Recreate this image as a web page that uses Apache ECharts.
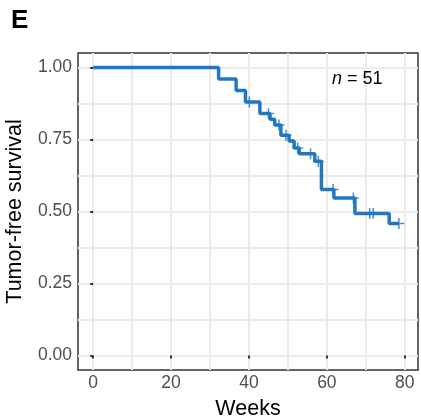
<!DOCTYPE html>
<html>
<head>
<meta charset="utf-8">
<script src="https://cdn.jsdelivr.net/npm/echarts@6/dist/echarts.min.js"></script>
<style>
  html, body { margin: 0; padding: 0; background: #fff; }
  #chart { width: 421px; height: 417px; }
</style>
</head>
<body>
<div id="chart"></div>
<script>
// Kaplan-Meier steps (weeks, survival)
const eventWeeks = [0, 32.2, 36.7, 39.1, 42.8, 45.4, 46.6, 48.2, 50.3, 51.6, 52.9, 56.9, 58.6, 61.8, 67.2, 76.0, 78.5];
const survival   = [1.00, 0.96, 0.92, 0.88, 0.84, 0.82, 0.80, 0.765, 0.745, 0.72, 0.70, 0.674, 0.576, 0.547, 0.493, 0.458, 0.458];

// censored (+) marks
const censorWeeks = [40.1, 45.0, 47.7, 49.5, 52.5, 55.8, 57.8, 61.6, 66.8, 71.0, 71.9, 78.5];
const censorSurv  = [0.88, 0.84, 0.80, 0.765, 0.72, 0.70, 0.674, 0.576, 0.547, 0.493, 0.493, 0.458];

// axis ticks
const xTicks = [0, 20, 40, 60, 80];
const xGrid = [0, 10, 20, 30, 40, 50, 60, 70, 80];
const yTicks = [0, 0.25, 0.5, 0.75, 1];
const yGrid = [0, 0.125, 0.25, 0.375, 0.5, 0.625, 0.75, 0.875, 1];

const chart = echarts.init(document.getElementById('chart'));
const font = "'Liberation Sans', Arial, sans-serif";
const blue = '#1f78c1';
// plus sign for censored points
const plusPath = 'path://M4.3,0H5.7V4.3H10V5.7H5.7V10H4.3V5.7H0V4.3H4.3Z';

const option = {
  animation: false,
  grid: {
    left: 78, right: 3, top: 53, bottom: 47,
    outerBoundsMode: 'none',
    containLabel: false,
    show: true, borderColor: '#333', borderWidth: 1.5, backgroundColor: '#fff'
  },
  xAxis: [
    {
      // grid lines every 10
      type: 'value', min: -3.9, max: 83.4,
      name: 'Weeks', nameLocation: 'middle', nameGap: 28,
      nameTextStyle: { fontSize: 21.5, color: '#000', fontFamily: font },
      axisLine: { show: false },
      axisTick: { show: false, customValues: xGrid },
      axisLabel: { show: false },
      splitLine: { show: true, lineStyle: { color: '#ebebeb', width: 2 } }
    },
    {
      // ticks + labels every 20
      type: 'value', min: -3.9, max: 83.4, position: 'bottom',
      axisLine: { show: false },
      axisTick: { show: true, customValues: xTicks, length: 3, lineStyle: { color: '#333', width: 2 } },
      axisLabel: { customValues: xTicks, margin: 4, fontSize: 17.5, color: '#4d4d4d', fontFamily: font },
      splitLine: { show: false }
    }
  ],
  yAxis: [
    {
      type: 'value', min: -0.05, max: 1.05,
      name: 'Tumor-free survival', nameLocation: 'middle', nameGap: 52,
      nameTextStyle: { fontSize: 21.5, color: '#000', fontFamily: font },
      axisLine: { show: false },
      axisTick: { show: false, customValues: yGrid },
      axisLabel: { show: false },
      splitLine: { show: true, lineStyle: { color: '#ebebeb', width: 2 } }
    },
    {
      type: 'value', min: -0.05, max: 1.05, position: 'left',
      axisLine: { show: false },
      axisTick: { show: true, customValues: yTicks, length: 3, lineStyle: { color: '#333', width: 2 } },
      axisLabel: {
        customValues: yTicks, margin: 6, fontSize: 17.5, color: '#4d4d4d', fontFamily: font,
        formatter: v => v.toFixed(2)
      },
      splitLine: { show: false }
    }
  ],
  series: [
    {
      type: 'line',
      step: 'end',
      showSymbol: false,
      data: eventWeeks.map((w, i) => [w, survival[i]]),
      lineStyle: { color: blue, width: 3.5 },
      z: 3
    },
    {
      type: 'scatter',
      symbol: plusPath,
      symbolSize: 11,
      data: censorWeeks.map((w, i) => [w, censorSurv[i]]),
      itemStyle: { color: blue },
      z: 4
    }
  ],
  graphic: [
    {
      type: 'text', left: 11, top: 8, z: 100,
      style: { text: 'E', font: "bold 26px 'Liberation Sans', Arial, sans-serif", fill: '#000' }
    },
    {
      type: 'text', left: 332, top: 70, z: 100,
      style: {
        text: '{i|n}{r| = 51}',
        rich: {
          i: { font: "italic 18px 'Liberation Sans', Arial, sans-serif", fill: '#000' },
          r: { font: "18px 'Liberation Sans', Arial, sans-serif", fill: '#000' }
        }
      }
    }
  ]
};

chart.setOption(option);
</script>
</body>
</html>
